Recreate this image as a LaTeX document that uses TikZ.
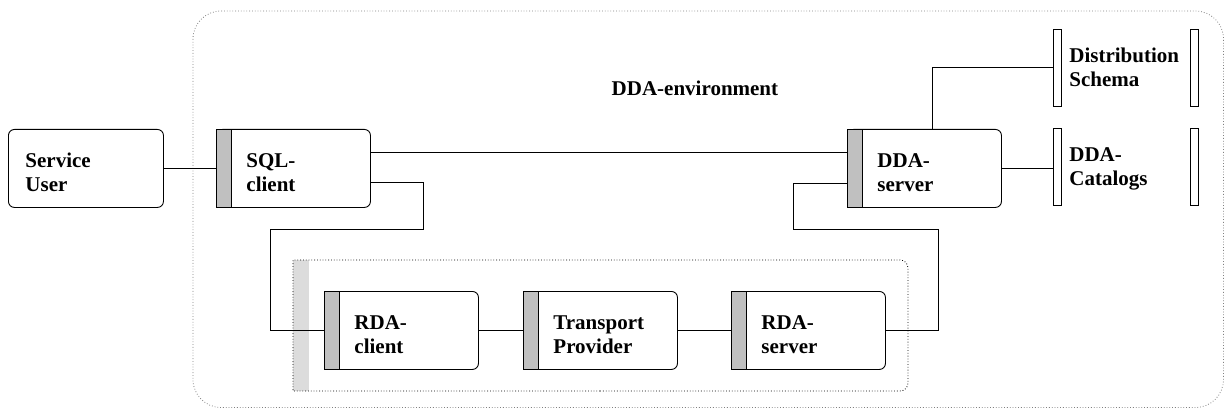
\documentclass[tikz,border=0pt]{standalone}
\usepackage{fontspec}
\setmainfont{Liberation Serif}
\definecolor{bargray}{HTML}{C0C0C0}
\definecolor{stripgray}{HTML}{DCDCDC}
\begin{document}
\begin{tikzpicture}[x=1pt, y=-1pt, line width=0.8pt]

\tikzset{txt/.style = {font=\bfseries\fontsize{21}{24}\selectfont, align=left, anchor=north west}}
\tikzset{box/.style = {txt, draw, line width=0.9pt, rounded corners=6pt, minimum height=78pt, text height=22pt, text depth=24pt}}
\tikzset{comp/.style = {box, minimum width=154pt, inner xsep=30pt, text width=94pt}}
\tikzset{store/.style = {txt, minimum width=145pt, minimum height=77pt, inner xsep=16pt, text width=113pt, text height=14pt, text depth=24pt}}
\tikzset{bar/.style = {draw, line width=0.9pt, fill=bargray}}
\useasboundingbox (0,0) rectangle (1224,409);
% environments
\draw[gray, dotted, rounded corners=28pt] (193,11) rectangle (1223.5,407.5);
\fill[stripgray] (293,260) rectangle (309,391);
\draw[dotted] (600,391) -- (293,391) -- (293,260) -- (600,260) [rounded corners=8pt] -- (908,260) -- (908,391) -- (600,391);
\node[txt, anchor=base west] (envlabel) at (608,96) {DDA-environment};
% components
\node[box, minimum width=155pt, inner xsep=17pt, text width=121pt] (user) at (8,129) {Service\\User};
\node[comp] (sql) at (216,129) {SQL-\\client};
\node[comp] (dda) at (847,129) {DDA-\\server};
\node[comp] (rdac) at (324,291) {RDA-\\client};
\node[comp] (tp) at (523,291) {Transport\\Provider};
\node[comp] (rdas) at (731,291) {RDA-\\server};
\foreach \n in {sql,dda,rdac,tp,rdas}
  \draw[bar] (\n.north west) rectangle ([xshift=15.5pt]\n.south west);
% data stores
\node[store] (schema) at (1053,29) {Distribution\\Schema};
\node[store] (catalogs) at (1053,128) {DDA-\\Catalogs};
\foreach \n in {schema,catalogs} {
  \draw (\n.north west) rectangle ([xshift=8.5pt]\n.south west);
  \draw (\n.north east) rectangle ([xshift=-8.5pt]\n.south east);
}
% connections
\draw (user) -- (sql);
\draw ([yshift=16pt]sql.east) -- ([yshift=16pt]dda.west);
\draw ([yshift=-14pt]sql.east) -- ++(52,0) |- (270,229) |- (rdac.west);
\draw ([yshift=-15pt]dda.west) -- ++(-54,0) |- (938,229) |- (rdas.east);
\draw (rdac) -- (tp);
\draw (tp) -- (rdas);
\draw ([xshift=8pt]dda.north) |- (schema.west);
\draw (dda.east) -- (dda.east -| catalogs.west);
\end{tikzpicture}
\end{document}
